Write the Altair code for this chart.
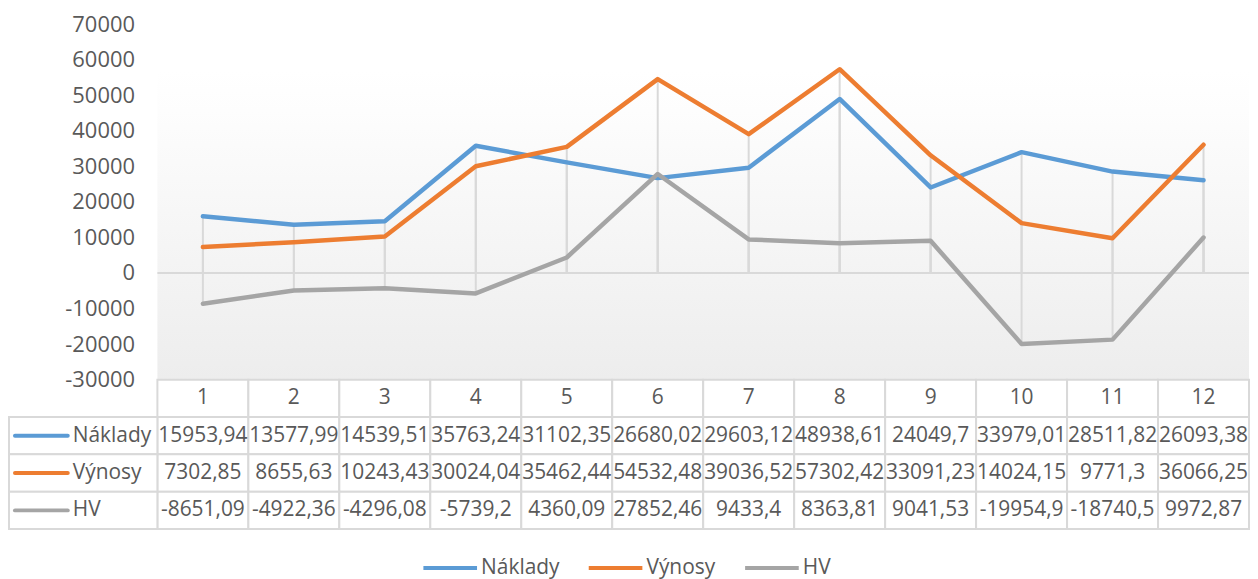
import altair as alt
import pandas as pd

mesice = [1, 2, 3, 4, 5, 6, 7, 8, 9, 10, 11, 12]
rady = ["Náklady", "Výnosy", "HV"]
naklady = [15953.94, 13577.99, 14539.51, 35763.24, 31102.35, 26680.02,
           29603.12, 48938.61, 24049.7, 33979.01, 28511.82, 26093.38]
vynosy = [7302.85, 8655.63, 10243.43, 30024.04, 35462.44, 54532.48,
          39036.52, 57302.42, 33091.23, 14024.15, 9771.3, 36066.25]
hv = [-8651.09, -4922.36, -4296.08, -5739.2, 4360.09, 27852.46,
      9433.4, 8363.81, 9041.53, -19954.9, -18740.5, 9972.87]
y_ticks = [-30000, -20000, -10000, 0, 10000, 20000, 30000, 40000, 50000, 60000, 70000]
barvy = ["#5b9bd5", "#ed7d31", "#a5a5a5"]

TXT = "#595959"
GRID = "#d9d9d9"
FONT = "Open Sans"

rows = []
for name, vals in zip(rady, [naklady, vynosy, hv]):
    for m, v in zip(mesice, vals):
        rows.append({"mesic": m, "rada": name, "hodnota": v,
                     "text": str(v).replace(".", ",")})
df = pd.DataFrame(rows)
hdr = pd.DataFrame({"mesic": mesice, "rada": "hdr", "text": [str(m) for m in mesice]})
tbl = pd.concat([hdr, df[["mesic", "rada", "text"]]], ignore_index=True)
lab = pd.DataFrame({"rada": rady})

color_enc = alt.Color(
    "rada:N",
    scale=alt.Scale(domain=rady, range=barvy),
    legend=alt.Legend(
        title=None, orient="none", legendX=265, legendY=517,
        direction="horizontal", symbolType="stroke", symbolStrokeWidth=4,
        symbolSize=2900, labelFontSize=21, labelFont=FONT, labelColor=TXT,
        columnPadding=21, labelOffset=2, padding=0,
    ),
)

W = 1096
x_pt = alt.X("mesic:O", scale=alt.Scale(type="point", padding=0.5), axis=None)
y_sc = alt.Scale(domain=[-30000, 70000], nice=False, zero=False)
y_axis = alt.Axis(values=y_ticks, title=None, grid=False, domain=False, ticks=False,
                  labelFontSize=22, labelFont=FONT, labelColor=TXT, labelPadding=23,
                  labelOverlap=False, labelExpr="'' + datum.value")
y_enc = alt.Y("hodnota:Q", scale=y_sc, axis=y_axis)

base = alt.Chart(df)

bg = alt.Chart(pd.DataFrame({"a": [0]})).mark_rect(
    fill=alt.Gradient(gradient="linear", x1=0, x2=0, y1=0, y2=1,
                      stops=[alt.GradientStop(offset=0, color="#ffffff"),
                             alt.GradientStop(offset=0.13, color="#fdfdfd"),
                             alt.GradientStop(offset=1, color="#ededed")])
).encode(x=alt.value(0), x2=alt.value(W), y=alt.value(47), y2=alt.value("height"))

drops = base.mark_rule(color=GRID, strokeWidth=2).encode(
    x=x_pt, y=y_enc, y2=alt.datum(0))

zero = alt.Chart(pd.DataFrame({"a": [0]})).mark_rule(color=GRID, strokeWidth=2).encode(
    y=alt.datum(0, scale=y_sc, axis=y_axis))

lines = base.mark_line(strokeWidth=4.5, strokeJoin="round", strokeCap="round").encode(
    x=x_pt, y=y_enc, color=color_enc, order=alt.Order("mesic:O"))

top = alt.layer(bg, drops, zero, lines).properties(width=W, height=357)

x_band = alt.X("mesic:O", scale=alt.Scale(type="band", paddingInner=0, paddingOuter=0),
               axis=None, bandPosition=0.5)
x_band_r = alt.X("mesic:O", scale=alt.Scale(type="band", paddingInner=0, paddingOuter=0),
                 axis=None)
y_row_sc = alt.Scale(type="band", domain=["hdr"] + rady, paddingInner=0, paddingOuter=0)
y_row = alt.Y("rada:N", scale=y_row_sc, axis=None, bandPosition=0.5)
y_row_r = alt.Y("rada:N", scale=y_row_sc, axis=None)

cells = alt.Chart(tbl).mark_rect(fill="#ffffff", stroke=GRID, strokeWidth=2).encode(
    x=x_band_r, y=y_row_r)
cell_txt = alt.Chart(tbl).mark_text(fontSize=21, font=FONT, color=TXT, baseline="middle").encode(
    x=x_band, y=y_row, text="text:N")
lab_cells = alt.Chart(lab).mark_rect(fill="#ffffff", stroke=GRID, strokeWidth=2).encode(
    x=alt.value(-149), x2=alt.value(0), y=y_row_r)
lab_lines = alt.Chart(lab).mark_rule(strokeWidth=4, strokeCap="round").encode(
    x=alt.value(-143), x2=alt.value(-90), y=y_row, color=color_enc)
lab_txt = alt.Chart(lab).mark_text(align="left", baseline="middle", fontSize=21,
                                   font=FONT, color=TXT).encode(
    x=alt.value(-85), y=y_row, text="rada:N")

table = alt.layer(cells, lab_cells, cell_txt, lab_lines, lab_txt).properties(width=W, height=150)

chart = alt.vconcat(top, table, spacing=0, bounds="flush").properties(
    padding={"left": 0, "top": 4, "right": 0, "bottom": 0}
).configure_view(stroke=None).configure_concat(spacing=0).configure_axisY(labelOverlap=False)

chart.save("out.html", embed_options={"renderer": "svg", "actions": False})
